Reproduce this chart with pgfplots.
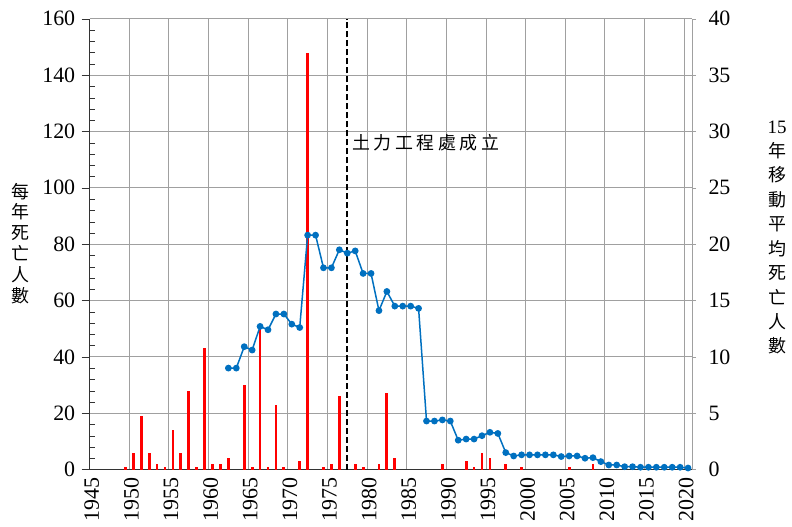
\documentclass[border=0pt]{standalone}
\usepackage{fontspec}
\setmainfont{Liberation Serif}
\newfontfamily\tnr{Liberation Serif}
\newfontfamily\cjk{Noto Sans CJK TC}
\newfontfamily\cjkls[LetterSpace=20]{Noto Sans CJK TC}
\usepackage{pgfplots}
\pgfplotsset{compat=1.18}
\usepackage{pgfplotstable}
\definecolor{lineblue}{RGB}{0,112,192}
\definecolor{gridgray}{RGB}{160,160,160}

\pgfplotstableread{
year deaths
1949 1
1950 6
1951 19
1952 6
1953 2
1954 1
1955 14
1956 6
1957 28
1958 1
1959 43
1960 2
1961 2
1962 4
1964 30
1965 1
1966 50
1967 1
1968 23
1969 1
1971 3
1972 148
1974 1
1975 2
1976 26
1978 2
1979 1
1981 2
1982 27
1983 4
1989 2
1992 3
1993 1
1994 6
1995 4
1997 2
1999 1
2005 1
2008 2
}\deaths

\pgfplotstableread{
year avg
1962 9.0
1963 9.0
1964 10.9
1965 10.6
1966 12.7
1967 12.4
1968 13.8
1969 13.8
1970 12.9
1971 12.6
1972 20.8
1973 20.8
1974 17.9
1975 17.9
1976 19.5
1977 19.2
1978 19.4
1979 17.4
1980 17.4
1981 14.1
1982 15.8
1983 14.5
1984 14.5
1985 14.5
1986 14.3
1987 4.3
1988 4.3
1989 4.4
1990 4.3
1991 2.6
1992 2.7
1993 2.7
1994 3.0
1995 3.3
1996 3.2
1997 1.5
1998 1.2
1999 1.3
2000 1.3
2001 1.3
2002 1.3
2003 1.3
2004 1.15
2005 1.2
2006 1.2
2007 1.0
2008 1.05
2009 0.7
2010 0.4
2011 0.4
2012 0.25
2013 0.25
2014 0.2
2015 0.2
2016 0.2
2017 0.2
2018 0.2
2019 0.2
2020 0.13
}\avg

\begin{document}
\begin{tikzpicture}
\begin{axis}[
  at={(0,0)}, anchor=south west,
  scale only axis, width=602.3bp, height=450.7bp,
  xmin=1945, xmax=2021, ymin=0, ymax=160,
  xtick={1945,1950,...,2020},
  ytick={0,20,...,160},
  minor y tick num=4,
  grid=major,
  major grid style={gridgray, line width=0.9bp},
  axis line style={black!80, line width=0.9bp},
  axis y line*=left, axis x line*=bottom,
  tick align=outside,
  major tick length=8bp,
  minor tick length=5bp,
  minor tick style={xshift=5bp, black!80},
  major tick style={black!80},
  xtick style={draw=none},
  tick label style={font=\tnr\fontsize{22}{26}\selectfont},
  y tick label style={xshift=-3bp},
  x tick label style={rotate=90, anchor=east, xshift=3bp, yshift=-2bp, /pgf/number format/1000 sep={}},
  /pgf/number format/assume math mode=true,
  clip=false,
]
\addplot[ycomb, red, line width=2.8bp, mark=none] table[x expr=\thisrow{year}+0.5, y=deaths] {\deaths};
\draw[black, line width=1.8bp, dash pattern=on 6bp off 3bp] (axis cs:1977.5,0) -- (axis cs:1977.5,160);
\node[anchor=west, font=\cjkls\fontsize{18}{20}\selectfont, inner sep=0pt] at (axis cs:1978.1,116) {土力工程處成立};
\end{axis}
\begin{axis}[
  at={(0,0)}, anchor=south west,
  scale only axis, width=602.3bp, height=450.7bp,
  xmin=1945, xmax=2021, ymin=0, ymax=40,
  axis y line*=right, axis x line=none,
  ytick={0,5,...,40},
  tick align=outside,
  major tick length=4bp,
  axis line style={gridgray, line width=0.9bp},
  major tick style={gridgray},
  tick label style={font=\tnr\fontsize{22}{26}\selectfont},
  y tick label style={xshift=9bp},
  /pgf/number format/assume math mode=true,
  clip=false,
]
\addplot[lineblue, line width=1.5bp, mark=*, mark size=2.6bp, mark options={fill=lineblue, draw=lineblue}] table[x expr=\thisrow{year}+0.5, y=avg] {\avg};
\end{axis}
\node[font=\cjk\fontsize{18}{21}\selectfont, align=center, inner sep=0pt] at (-69.7bp,226bp) {每\\年\\死\\亡\\人\\數};
\node[font=\cjk\fontsize{18}{24.5}\selectfont, align=center, inner sep=0pt] at (687.3bp,232bp) {{\tnr\fontsize{19}{20}\selectfont 15}\\年\\移\\動\\平\\均\\死\\亡\\人\\數};
\pgfresetboundingbox
\path[use as bounding box] (-89.7bp,-57.5bp) rectangle (702.3bp,469.5bp);
\end{tikzpicture}
\end{document}
